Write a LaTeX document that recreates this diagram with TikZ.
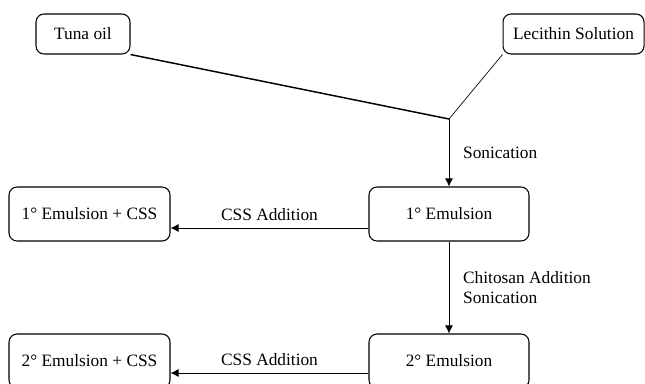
\documentclass[tikz,border=0pt]{standalone}
\usepackage{fontspec}
\setmainfont{Liberation Serif}
\usetikzlibrary{arrows.meta,positioning}

\begin{document}
\begin{tikzpicture}[on grid,font=\fontsize{13}{15}\selectfont,
  box/.style={draw,rounded corners=6pt,line width=0.8pt,minimum width=120pt,minimum height=40.5pt},
  topbox/.style={box,minimum height=30pt},
  flow/.style={-{Latex[length=6pt,width=6pt]},line width=0.6pt}]
  \clip (-336.75pt,-126.75pt) rectangle (147pt,160.5pt);
  \node[box]                            (emu1)                                       {1° Emulsion};
  \node[topbox,minimum width=70.5pt]    (tuna)     [above left=135pt and 274.5pt of emu1] {Tuna oil};
  \node[topbox,minimum width=105.75pt]  (lecithin) [above right=135pt and 93.4pt of emu1] {Lecithin Solution};
  \coordinate[above=71.25pt of emu1]    (join);
  \node[box,minimum width=120.75pt]     (emu1css)  [left=269.6pt of emu1]        {1° Emulsion + CSS};
  \node[box]                            (emu2)     [below=110.25pt of emu1]      {2° Emulsion};
  \node[box,minimum width=120.75pt]     (emu2css)  [left=269.6pt of emu2]        {2° Emulsion + CSS};
  % mixing
  \draw[line width=1.1pt] (tuna.south east) -- (join);
  \draw[line width=0.5pt] (lecithin.south west) -- (join);
  \draw[flow] (join) -- node[right=7pt] {Sonication} (emu1);
  \draw[flow] (emu1) -- node[right=7pt,align=left] {Chitosan Addition\\Sonication} (emu2);
  % CSS addition
  \draw[flow] ([yshift=-10.5pt]emu1.west) -- node[above=1.5pt] {CSS Addition} ([yshift=-10.5pt]emu1css.east);
  \draw[flow] ([yshift=-9pt]emu2.west) -- node[above=1.5pt] {CSS Addition} ([yshift=-9pt]emu2css.east);
\end{tikzpicture}
\end{document}
